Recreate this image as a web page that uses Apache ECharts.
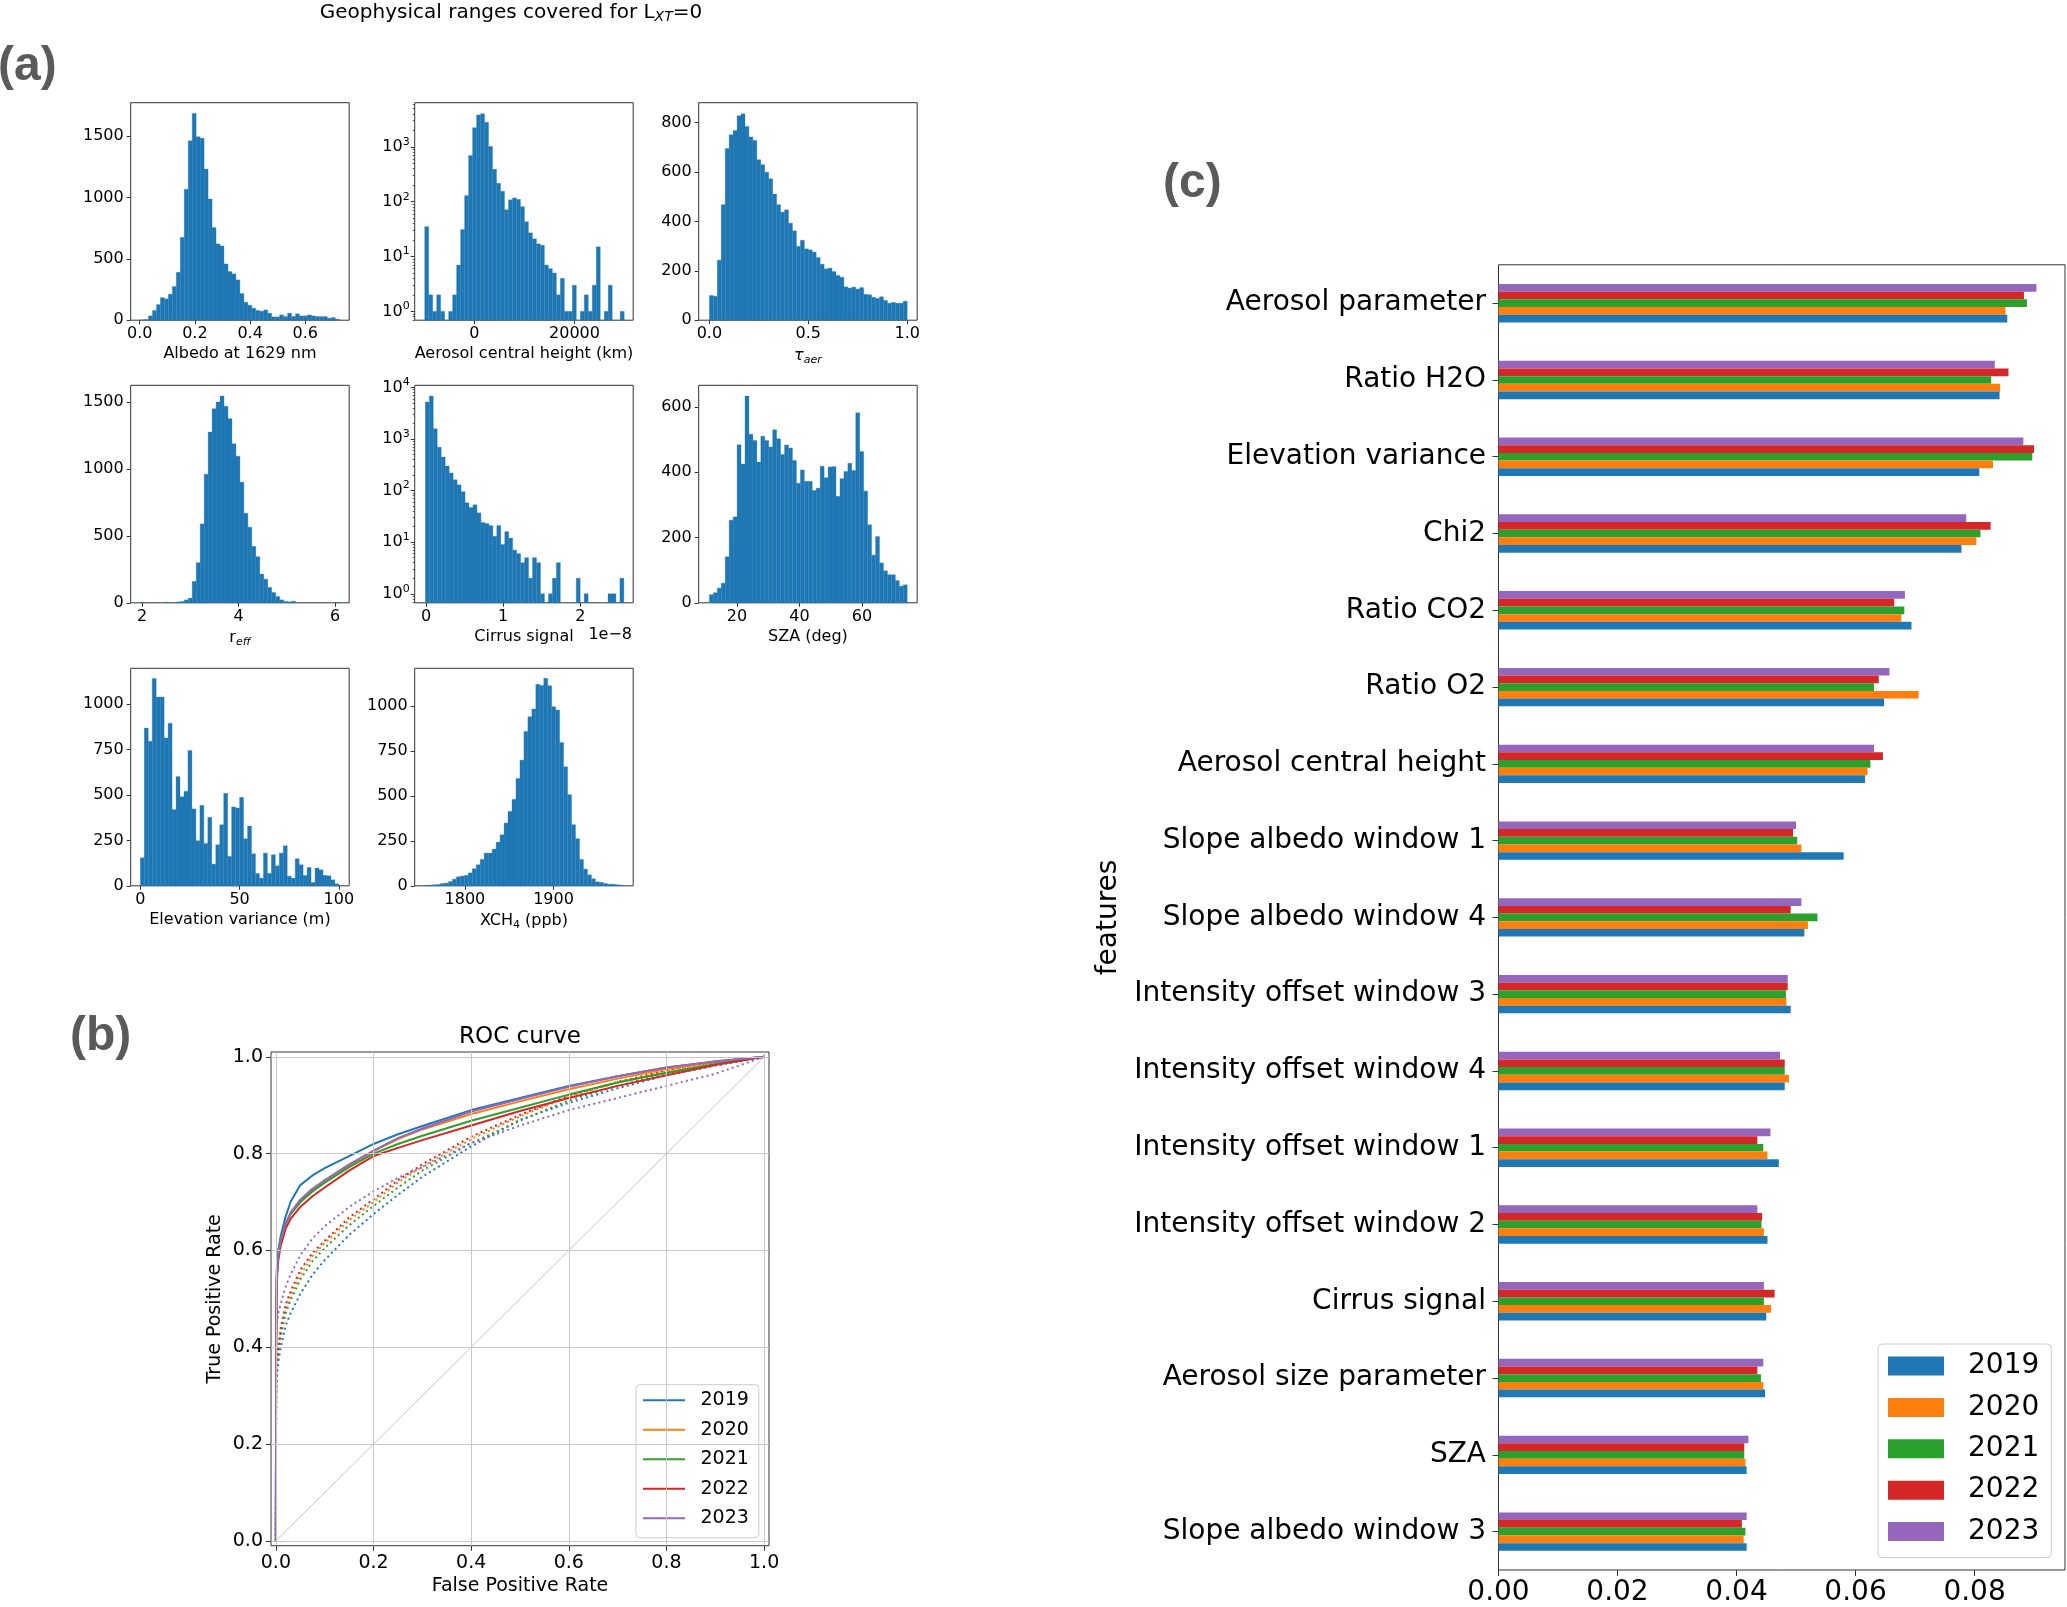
<!DOCTYPE html>
<html><head><meta charset="utf-8">
<script src="https://cdn.jsdelivr.net/npm/echarts@6/dist/echarts.min.js"></script>
<style>html,body{margin:0;padding:0;background:#fff}#c{width:2067px;height:1607px}</style>
</head><body><div id="c"></div>
<script>
// ---------------- DATA ----------------
// (a) histograms: counts per bin, first bin edge, bin width
const albedoStart = 0.003, albedoWidth = 0.0144;
const albedoCounts = [3,5,35,79,127,184,174,212,274,390,675,1066,1462,1684,1494,1481,1231,987,754,621,605,458,396,377,328,217,146,122,98,79,73,84,57,27,27,43,30,57,30,52,35,35,43,35,30,30,30,16,22,8];
const aerHeightStart = -9933, aerHeightWidth = 797.3;
const aerHeightCounts = [35,2,1,2,1,0,1,2,7,31,129,692,2230,3800,4000,2810,1010,390,216,155,71,108,117,110,81,43,27,21,17,16,7,6,5,2,4,1,1,3,0,1,2,1,3,15,0,1,3,0,0,1];
const tauStart = 0.0, tauWidth = 0.02;
const tauCounts = [100,97,243,468,695,751,768,828,836,785,742,728,650,630,599,573,511,468,438,447,393,362,299,324,289,285,276,254,227,208,211,197,181,174,135,130,134,126,132,105,103,93,88,95,80,69,72,69,69,77];
const reffStart = 1.97, reffWidth = 0.0823;
const reffCounts = [1,0,0,0,0,0,5,0,0,7,10,22,35,160,300,590,962,1277,1452,1502,1547,1470,1377,1190,1097,902,670,565,422,345,215,177,115,77,47,22,10,7,12,0,0,0,0,0,0,0,0,0,0,1];
const cirrusStart = -0.009, cirrusWidth = 0.0515;
const cirrusCounts = [5190,6800,1580,690,445,298,220,162,129,95,58,47,53,37,24,23,21,13,21,9,16,12,7,6,4,5,2,5,4,1,0,1,2,4,0,0,0,0,2,0,1,0,0,0,0,0,1,1,0,2];
const szaStart = 11.15, szaWidth = 1.267;
const szaCounts = [25,31,45,60,141,253,263,484,425,633,516,497,431,510,497,477,530,502,454,483,474,436,366,407,372,372,344,351,418,383,416,417,326,380,402,427,405,582,463,342,239,146,203,122,98,86,86,68,51,55];
const elevStart = 0, elevWidth = 2;
const elevCounts = [154,868,796,1141,1039,1039,814,895,419,601,490,520,745,423,248,443,233,377,119,226,336,509,162,434,428,487,259,329,176,68,42,180,68,171,110,180,220,53,42,149,116,57,101,18,98,88,57,55,33,11];
const xch4Start = 1754.5, xch4Width = 4.484;
const xch4Counts = [1,4,6,7,13,15,24,37,50,54,58,72,95,117,147,182,182,204,243,284,349,414,481,597,699,859,941,983,1121,1115,1154,1113,996,978,797,662,507,340,262,147,93,61,39,22,19,13,9,9,6,4];

// tick values
const albedoTicks = [0,0.2,0.4,0.6], aerHeightTicks = [0,20000], tauTicks = [0,0.5,1.0];
const reffTicks = [2,4,6], cirrusTicks = [0,1,2], szaTicks = [20,40,60], elevTicks = [0,50,100], xch4Ticks = [1800,1900];
const countTicks1500 = [0,500,1000,1500], countTicks800 = [0,200,400,600,800], countTicks600 = [0,200,400,600], countTicks1000 = [0,250,500,750,1000];
const logTicks3 = [1,10,100,1000], logTicks4 = [1,10,100,1000,10000];

// (b) ROC curves
const years = ['2019','2020','2021','2022','2023'];
const rocFpr = [0,0.0005,0.002,0.005,0.01,0.02,0.03,0.05,0.075,0.1,0.15,0.2,0.25,0.3,0.4,0.5,0.6,0.7,0.8,0.9,1.0];
const rocSolid2019 = [0,0.45,0.56,0.60,0.63,0.67,0.70,0.735,0.755,0.77,0.795,0.82,0.84,0.857,0.89,0.915,0.94,0.96,0.978,0.99,1.0];
const rocSolid2020 = [0,0.42,0.55,0.59,0.62,0.655,0.675,0.70,0.725,0.745,0.775,0.805,0.83,0.85,0.882,0.908,0.933,0.955,0.975,0.99,1.0];
const rocSolid2021 = [0,0.45,0.56,0.60,0.625,0.655,0.675,0.70,0.722,0.74,0.772,0.80,0.82,0.837,0.868,0.895,0.922,0.947,0.967,0.985,1.0];
const rocSolid2022 = [0,0.40,0.54,0.58,0.61,0.645,0.665,0.69,0.712,0.73,0.765,0.795,0.812,0.828,0.858,0.888,0.915,0.94,0.962,0.983,1.0];
const rocSolid2023 = [0,0.43,0.55,0.59,0.62,0.655,0.678,0.705,0.728,0.745,0.778,0.806,0.832,0.852,0.887,0.913,0.938,0.96,0.978,0.991,1.0];
const rocDot2019 = [0,0.30,0.34,0.37,0.40,0.445,0.47,0.51,0.55,0.58,0.632,0.675,0.715,0.752,0.815,0.87,0.905,0.935,0.962,0.982,1.0];
const rocDot2020 = [0,0.32,0.36,0.39,0.43,0.478,0.505,0.55,0.588,0.615,0.662,0.70,0.74,0.773,0.83,0.877,0.918,0.947,0.97,0.988,1.0];
const rocDot2021 = [0,0.32,0.36,0.39,0.425,0.47,0.497,0.54,0.578,0.605,0.652,0.692,0.73,0.765,0.822,0.868,0.91,0.94,0.965,0.985,1.0];
const rocDot2022 = [0,0.33,0.37,0.40,0.44,0.488,0.515,0.56,0.595,0.62,0.668,0.706,0.745,0.778,0.835,0.88,0.92,0.948,0.972,0.99,1.0];
const rocDot2023 = [0,0.40,0.45,0.47,0.49,0.525,0.55,0.59,0.625,0.65,0.69,0.722,0.75,0.772,0.822,0.858,0.89,0.915,0.94,0.965,1.0];
const rocTicks = [0,0.2,0.4,0.6,0.8,1.0];

// (c) feature importances
const features = ['Aerosol parameter','Ratio H2O','Elevation variance','Chi2','Ratio CO2','Ratio O2','Aerosol central height','Slope albedo window 1','Slope albedo window 4','Intensity offset window 3','Intensity offset window 4','Intensity offset window 1','Intensity offset window 2','Cirrus signal','Aerosol size parameter','SZA','Slope albedo window 3'];
const imp2019 = [0.0855,0.0842,0.0808,0.0778,0.0694,0.0648,0.0616,0.0580,0.0514,0.0491,0.0481,0.0471,0.0452,0.0450,0.0448,0.0417,0.0417];
const imp2020 = [0.0852,0.0843,0.0831,0.0803,0.0677,0.0706,0.0620,0.0509,0.0520,0.0484,0.0488,0.0452,0.0446,0.0458,0.0445,0.0415,0.0412];
const imp2021 = [0.0888,0.0828,0.0897,0.0810,0.0682,0.0631,0.0625,0.0502,0.0536,0.0483,0.0481,0.0445,0.0442,0.0446,0.0441,0.0413,0.0415];
const imp2022 = [0.0883,0.0857,0.0900,0.0827,0.0665,0.0639,0.0646,0.0495,0.0491,0.0486,0.0481,0.0435,0.0443,0.0464,0.0435,0.0413,0.0409];
const imp2023 = [0.0904,0.0834,0.0882,0.0786,0.0683,0.0657,0.0631,0.0500,0.0509,0.0486,0.0473,0.0457,0.0435,0.0446,0.0445,0.0420,0.0417];
const impTicks = [0,0.02,0.04,0.06,0.08];

// ---------------- STYLE / LAYOUT ----------------
const FONT = 'DejaVu Sans';
const COLORS = ['#1f77b4','#ff7f0e','#2ca02c','#d62728','#9467bd'];
const FRAME = '#333';
const colX = [130.7, 414.7, 698.7], rowY = [102.7, 385.3, 668.3];
const HW = 218.5, HH = 217.5;

const subRich = {
  s: {fontSize: 11, fontStyle: 'italic', fontFamily: FONT, color: '#000', padding: [8,0,0,0]},
  d: {fontSize: 11, fontFamily: FONT, color: '#000', padding: [8,0,0,0]},
  i: {fontSize: 16, fontStyle: 'italic', fontFamily: FONT, color: '#000'}
};
const supRich = {
  b: {fontSize: 16, fontFamily: FONT, color: '#000'},
  e: {fontSize: 11, fontFamily: FONT, color: '#000', padding: [0,0,10,0]}
};

const hists = [
  {counts: albedoCounts, start: albedoStart, w: albedoWidth, col:0, row:0, xr:[-0.0326,0.759], yr:[0,1771], xt: albedoTicks, yt: countTicks1500, xdec:1, name:'Albedo at 1629 nm'},
  {counts: aerHeightCounts, start: aerHeightStart, w: aerHeightWidth, col:1, row:0, xr:[-11933,31733], yr:[0.690,6368], xt: aerHeightTicks, yt: logTicks3, log:true, name:'Aerosol central height (km)'},
  {counts: tauCounts, start: tauStart, w: tauWidth, col:2, row:0, xr:[-0.0539,1.0505], yr:[0,881], xt: tauTicks, yt: countTicks800, xdec:1, name:'{i|τ}{s|aer}'},
  {counts: reffCounts, start: reffStart, w: reffWidth, col:0, row:1, xr:[1.766,6.29], yr:[0,1627], xt: reffTicks, yt: countTicks1500, name:'r{s|eff}'},
  {counts: cirrusCounts, start: cirrusStart, w: cirrusWidth, col:1, row:1, xr:[-0.147,2.687], yr:[0.668,10965], xt: cirrusTicks, yt: logTicks4, log:true, name:'Cirrus signal'},
  {counts: szaCounts, start: szaStart, w: szaWidth, col:2, row:1, xr:[7.73,77.7], yr:[0,666], xt: szaTicks, yt: countTicks600, name:'SZA (deg)'},
  {counts: elevCounts, start: elevStart, w: elevWidth, col:0, row:2, xr:[-4.84,105.2], yr:[0,1197], xt: elevTicks, yt: countTicks1000, name:'Elevation variance (m)'},
  {counts: xch4Counts, start: xch4Start, w: xch4Width, col:1, row:2, xr:[1743.3,1990], yr:[0,1210], xt: xch4Ticks, yt: countTicks1000, name:'XCH{d|4} (ppb)'}
];

function logMinors(lo, hi) {
  const r = [];
  for (let e = -2; e <= 5; e++) for (let m = 2; m <= 9; m++) { const v = m * Math.pow(10, e); if (v > lo && v < hi) r.push(v); }
  return r;
}

const grids = [], xAxes = [], yAxes = [], series = [];

hists.forEach((h, k) => {
  grids.push({left: colX[h.col], top: rowY[h.row], width: HW, height: HH, show: true, borderColor: FRAME, borderWidth: 1, backgroundColor: 'transparent'});
  xAxes.push({
    gridIndex: k, type: 'value', min: h.xr[0], max: h.xr[1],
    name: h.name, nameLocation: 'middle', nameGap: 26,
    nameTextStyle: {fontSize: 16, fontFamily: FONT, color: '#000', rich: subRich},
    axisLine: {show: false, onZero: false},
    axisTick: {show: true, length: 4, customValues: h.xt, lineStyle: {color: FRAME, width: 1}},
    axisLabel: {customValues: h.xt, margin: 6, fontSize: 16, fontFamily: FONT, color: '#000',
      formatter: v => h.xdec ? v.toFixed(h.xdec) : String(v)},
    splitLine: {show: false}
  });
  const yBase = h.log ? h.yr[0] : 0;
  const yIdx = yAxes.length;
  yAxes.push({
    gridIndex: k, type: h.log ? 'log' : 'value', logBase: 10, min: h.yr[0], max: h.yr[1],
    axisLine: {show: false, onZero: false},
    axisTick: {show: true, length: 4, customValues: h.yt, lineStyle: {color: FRAME, width: 1}},
    axisLabel: h.log ? {customValues: h.yt, margin: 5, rich: supRich,
        formatter: v => '{b|10}{e|' + Math.round(Math.log10(v)) + '}'}
      : {customValues: h.yt, margin: 7, fontSize: 16, fontFamily: FONT, color: '#000', formatter: v => String(v)},
    splitLine: {show: false}
  });
  if (h.log) {
    const minors = logMinors(h.yr[0], h.yr[1]);
    yAxes.push({
      gridIndex: k, type: 'log', logBase: 10, min: h.yr[0], max: h.yr[1], position: 'left',
      axisLine: {show: false, onZero: false}, axisLabel: {show: false}, splitLine: {show: false},
      axisTick: {show: true, length: 2, customValues: minors, lineStyle: {color: FRAME, width: 0.8}}
    });
  }
  const data = h.counts.map((c, i) => [h.start + i * h.w, h.start + (i + 1) * h.w, c]);
  series.push({
    type: 'custom', xAxisIndex: k, yAxisIndex: yIdx, encode: {x: [0, 1], y: 2},
    data: data, silent: true,
    renderItem: function (params, api) {
      const c = api.value(2);
      if (!(c > 0)) return null;
      const p0 = api.coord([api.value(0), c]);
      const p1 = api.coord([api.value(1), yBase]);
      return {type: 'rect', shape: {x: p0[0], y: p0[1], width: p1[0] - p0[0], height: p1[1] - p0[1]},
        style: {fill: COLORS[0], stroke: COLORS[0], lineWidth: 0.3}};
    }
  });
});

// ---- (b) ROC ----
const rocGrid = grids.length;
grids.push({left: 271, top: 1052, width: 498, height: 493.7, show: true, borderColor: FRAME, borderWidth: 1, backgroundColor: 'transparent'});
const rocX = xAxes.length;
xAxes.push({
  gridIndex: rocGrid, type: 'value', min: -0.01, max: 1.01,
  name: 'False Positive Rate', nameLocation: 'middle', nameGap: 31,
  nameTextStyle: {fontSize: 19, fontFamily: FONT, color: '#000'},
  axisLine: {show: false, onZero: false},
  axisTick: {show: true, length: 5, customValues: rocTicks, lineStyle: {color: FRAME}},
  axisLabel: {customValues: rocTicks, margin: 7.5, fontSize: 19, fontFamily: FONT, color: '#000', formatter: v => v.toFixed(1)},
  splitLine: {show: false}
});
const rocY = yAxes.length;
yAxes.push({
  gridIndex: rocGrid, type: 'value', min: -0.01, max: 1.01,
  name: 'True Positive Rate', nameLocation: 'middle', nameGap: 46, nameRotate: 90,
  nameTextStyle: {fontSize: 19, fontFamily: FONT, color: '#000'},
  axisLine: {show: false, onZero: false},
  axisTick: {show: true, length: 5, customValues: rocTicks, lineStyle: {color: FRAME}},
  axisLabel: {customValues: rocTicks, margin: 8, fontSize: 19, fontFamily: FONT, color: '#000', formatter: v => v.toFixed(1)},
  splitLine: {show: false}
});
// grid lines + diagonal
series.push({
  type: 'line', name: 'diag', xAxisIndex: rocX, yAxisIndex: rocY, data: [[0,0],[1,1]],
  symbol: 'none', silent: true, z: 1,
  lineStyle: {color: '#b8b8b8', width: 0.8},
  markLine: {silent: true, symbol: ['none','none'], label: {show: false},
    lineStyle: {color: '#c8c8c8', width: 1, type: 'solid'},
    data: rocTicks.map(v => ({xAxis: v})).concat(rocTicks.map(v => ({yAxis: v})))}
});
const rocSolid = [rocSolid2019, rocSolid2020, rocSolid2021, rocSolid2022, rocSolid2023];
const rocDot = [rocDot2019, rocDot2020, rocDot2021, rocDot2022, rocDot2023];
years.forEach((y, i) => {
  series.push({type: 'line', name: 'ROCd ' + y, xAxisIndex: rocX, yAxisIndex: rocY,
    data: rocFpr.map((f, j) => [f, rocDot[i][j]]), symbol: 'none', showSymbol: false, z: 2,
    lineStyle: {color: COLORS[i], width: 2, type: [2, 3.3]}, itemStyle: {color: COLORS[i]}});
});
years.forEach((y, i) => {
  series.push({type: 'line', name: 'ROC ' + y, xAxisIndex: rocX, yAxisIndex: rocY,
    data: rocFpr.map((f, j) => [f, rocSolid[i][j]]), symbol: 'none', showSymbol: false, z: 3,
    lineStyle: {color: COLORS[i], width: 2}, itemStyle: {color: COLORS[i]}});
});

// ---- (c) feature importance ----
const barGrid = grids.length;
grids.push({left: 1498.5, top: 264.8, width: 566.5, height: 1307.2, show: true, borderColor: FRAME, borderWidth: 1, backgroundColor: 'transparent'});
const barX = xAxes.length;
xAxes.push({
  gridIndex: barGrid, type: 'value', min: 0, max: 0.0952,
  axisLine: {show: false, onZero: false},
  axisTick: {show: true, length: 6, customValues: impTicks, lineStyle: {color: FRAME}},
  axisLabel: {customValues: impTicks, margin: 9, fontSize: 28, fontFamily: FONT, color: '#000', formatter: v => v.toFixed(2)},
  splitLine: {show: false}
});
const barY = yAxes.length;
yAxes.push({
  gridIndex: barGrid, type: 'category', data: features, inverse: true,
  name: 'features', nameLocation: 'middle', nameGap: 376, nameRotate: 90,
  nameTextStyle: {fontSize: 28, fontFamily: FONT, color: '#000'},
  axisLine: {show: false, onZero: false},
  axisTick: {show: true, alignWithLabel: true, length: 6, lineStyle: {color: FRAME}},
  axisLabel: {interval: 0, margin: 12.5, fontSize: 28, fontFamily: FONT, color: '#000'},
  splitLine: {show: false}
});
const imps = [imp2019, imp2020, imp2021, imp2022, imp2023];
for (let i = 4; i >= 0; i--) {
  series.push({type: 'bar', name: years[i], xAxisIndex: barX, yAxisIndex: barY, data: imps[i],
    barGap: '0%', barCategoryGap: '50%', itemStyle: {color: COLORS[i]}, silent: true});
}

const option = {
  animation: false,
  backgroundColor: '#fff',
  grid: grids, xAxis: xAxes, yAxis: yAxes, series: series,
  legend: [
    {data: years.map(y => 'ROC ' + y), orient: 'vertical', left: 636, top: 1384.7,
     padding: [6, 10, 10, 7], itemWidth: 42, itemHeight: 2, icon: 'rect', itemGap: 10.5,
     formatter: n => n.replace('ROC ', ''), selectedMode: false,
     textStyle: {fontSize: 19, lineHeight: 19, fontFamily: FONT, color: '#000', padding: [0, 0, 0, 10.5]},
     borderColor: '#cccccc', borderWidth: 1, borderRadius: 4, backgroundColor: 'rgba(255,255,255,0.85)'},
    {data: years, orient: 'vertical', left: 1878, top: 1344,
     padding: [8, 12, 12, 10], itemWidth: 56, itemHeight: 19, icon: 'rect', itemGap: 13.4, selectedMode: false,
     textStyle: {fontSize: 28, lineHeight: 28, fontFamily: FONT, color: '#000', padding: [0, 0, 0, 19]},
     borderColor: '#cccccc', borderWidth: 1, borderRadius: 4, backgroundColor: 'rgba(255,255,255,0.85)'}
  ],
  graphic: [
    {type: 'text', x: 511, y: 13, silent: true, style: {text: 'Geophysical ranges covered for L{s|XT}=0',
      fontSize: 20, fontFamily: FONT, fill: '#000', align: 'center', verticalAlign: 'middle',
      rich: {s: {fontSize: 14, fontStyle: 'italic', fontFamily: FONT, fill: '#000', padding: [8,0,0,0]}}}},
    {type: 'text', x: -2, y: 67, silent: true, style: {text: '(a)', fontSize: 48, fontWeight: 'bold', fontFamily: 'Liberation Sans', fill: '#5a5a5a', align: 'left', verticalAlign: 'middle'}},
    {type: 'text', x: 70, y: 1037, silent: true, style: {text: '(b)', fontSize: 48, fontWeight: 'bold', fontFamily: 'Liberation Sans', fill: '#5a5a5a', align: 'left', verticalAlign: 'middle'}},
    {type: 'text', x: 1163, y: 184, silent: true, style: {text: '(c)', fontSize: 48, fontWeight: 'bold', fontFamily: 'Liberation Sans', fill: '#5a5a5a', align: 'left', verticalAlign: 'middle'}},
    {type: 'text', x: 520, y: 1037, silent: true, style: {text: 'ROC curve', fontSize: 23, fontFamily: FONT, fill: '#000', align: 'center', verticalAlign: 'middle'}},
    {type: 'text', x: 632, y: 635, silent: true, style: {text: '1e\u22128', fontSize: 16, fontFamily: FONT, fill: '#000', align: 'right', verticalAlign: 'middle'}}
  ]
};

const chart = echarts.init(document.getElementById('c'), null, {renderer: 'canvas'});
chart.setOption(option);
</script>
</body></html>
